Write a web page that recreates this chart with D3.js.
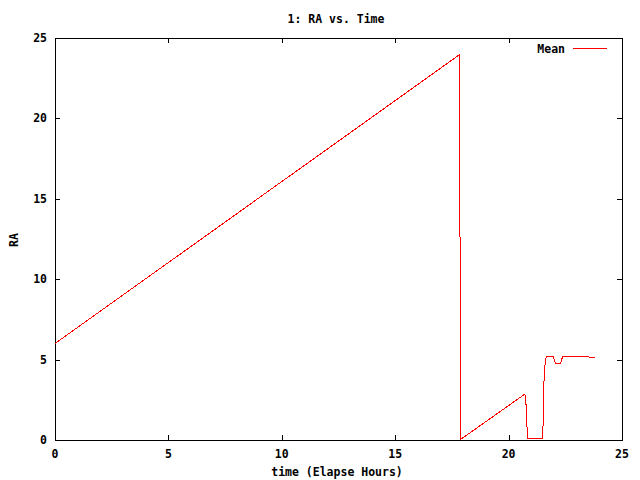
<!DOCTYPE html>
<html><head><meta charset="utf-8">
<script src="https://cdn.jsdelivr.net/npm/d3@7"></script>
<style>body{margin:0;background:#fff}svg{display:block}text{font-family:"DejaVu Sans Mono",monospace;font-weight:bold;font-size:11.5px;fill:#000}</style>
</head><body><svg id="c" width="640" height="480"></svg>
<script>
const hours = [0, 17.82, 17.84, 17.88, 17.90, 20.72, 20.77, 20.81, 20.83, 21.49, 21.53, 21.56, 21.62, 21.68, 21.97, 22.06, 22.30, 22.38, 23.51, 23.55, 23.82];
const ra    = [6.0, 23.95, 18.0, 6.0, 0.05, 2.86, 2.18, 0.83, 0.1, 0.1, 1.24, 3.63, 4.98, 5.2, 5.2, 4.77, 4.77, 5.2, 5.2, 5.14, 5.14];
const xTicks = [0, 5, 10, 15, 20, 25];
const yTicks = [0, 5, 10, 15, 20, 25];
const title = "1: RA vs. Time";
const xLabel = "time (Elapse Hours)";
const yLabel = "RA";
const seriesName = "Mean";

const svg = d3.select("#c");
const L = 55, R = 622, T = 38, B = 440;
const x = d3.scaleLinear().domain([0, 25]).range([L, R]);
const y = d3.scaleLinear().domain([0, 25]).range([B, T]);
const tk = 5;

const g = svg.append("g").attr("shape-rendering", "crispEdges");
g.append("rect").attr("x", L + 0.5).attr("y", T + 0.5).attr("width", R - L).attr("height", B - T)
  .attr("fill", "none").attr("stroke", "#000").attr("stroke-width", 1);

xTicks.forEach(v => {
  const px = Math.round(x(v)) + 0.5;
  g.append("line").attr("x1", px).attr("x2", px).attr("y1", B).attr("y2", B - tk).attr("stroke", "#000");
  g.append("line").attr("x1", px).attr("x2", px).attr("y1", T).attr("y2", T + tk).attr("stroke", "#000");
  svg.append("text").attr("x", x(v)).attr("y", B + 18).attr("text-anchor", "middle").text(v);
});
yTicks.forEach(v => {
  const py = Math.round(y(v)) + 0.5;
  g.append("line").attr("x1", L).attr("x2", L + tk).attr("y1", py).attr("y2", py).attr("stroke", "#000");
  g.append("line").attr("x1", R).attr("x2", R - tk).attr("y1", py).attr("y2", py).attr("stroke", "#000");
  svg.append("text").attr("x", 47).attr("y", y(v) + 4).attr("text-anchor", "end").text(v);
});

svg.append("text").attr("x", 336).attr("y", 23).attr("text-anchor", "middle").text(title);
svg.append("text").attr("x", 337).attr("y", 476).attr("text-anchor", "middle").text(xLabel);
svg.append("text").attr("transform", "translate(18,240) rotate(-90)").attr("text-anchor", "middle").text(yLabel);

const data = hours.map((h, i) => [h, ra[i]]);
const line = d3.line().x(d => x(d[0])).y(d => y(d[1]));
svg.append("path").datum(data).attr("d", line).attr("fill", "none").attr("stroke", "#ff0000")
  .attr("stroke-width", 1).attr("shape-rendering", "crispEdges");

svg.append("text").attr("x", 565).attr("y", 53).attr("text-anchor", "end").text(seriesName);
svg.append("line").attr("x1", 573).attr("x2", 607).attr("y1", 48.5).attr("y2", 48.5)
  .attr("stroke", "#ff0000").attr("shape-rendering", "crispEdges");
</script></body></html>
